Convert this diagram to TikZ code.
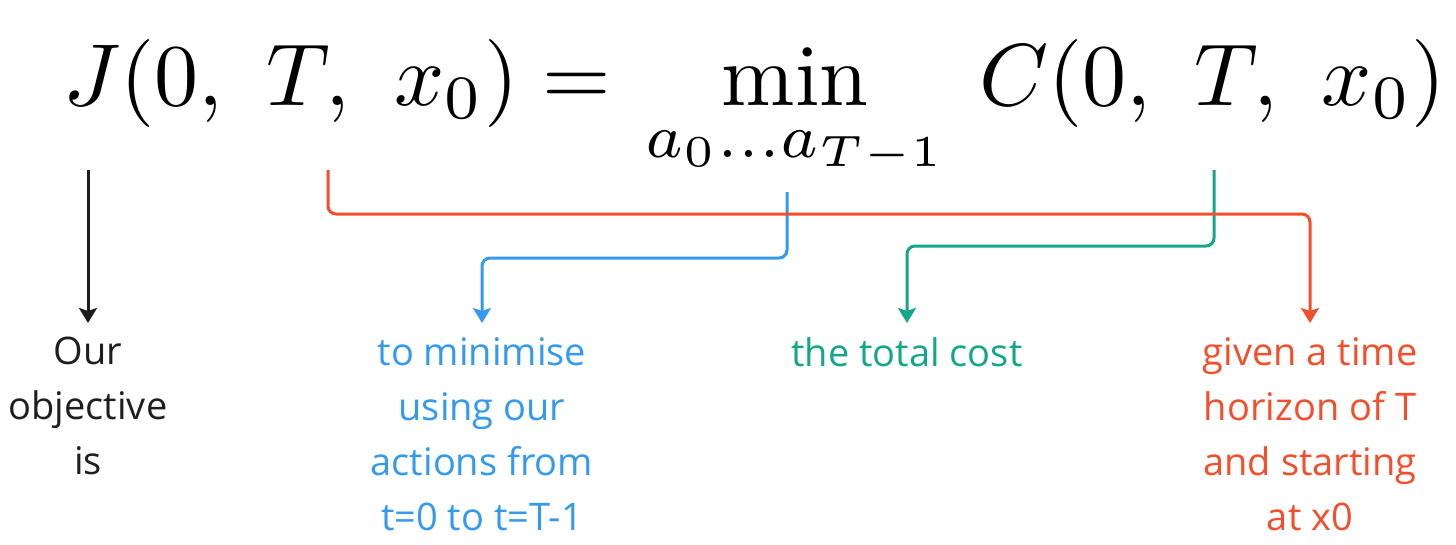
\documentclass[tikz,border=0pt]{standalone}
\usepackage{amsmath}
\usepackage{fontspec}
\newfontfamily\labelfont{Open Sans}
\usetikzlibrary{
  	positioning,
  	arrows.meta,
  	calc
  }
\definecolor{ink}{HTML}{1E1E1E}
\definecolor{cblue}{HTML}{339AF0}
\definecolor{cgreen}{HTML}{12A887}
\definecolor{cred}{HTML}{F44E2B}
\tikzstyle{lab}=[font=\labelfont\fontsize{38}{55}\selectfont, align=center, inner sep=0pt, anchor=north]
\tikzstyle{conn}=[line width=3pt, rounded corners=8pt, -{Stealth[length=15pt,width=18pt,inset=3pt]}, shorten >=14pt]

\begin{document}
\begin{tikzpicture}[x=1pt,y=-1pt]
\useasboundingbox (0,0) rectangle (1456,544);
\node[anchor=base west, inner sep=0pt, text=black] (eq) at (63,105)
  {\scalebox{8.8}{$\displaystyle J(0,\ T,\ x_0) =\mkern2mu \min_{a_0\ldots a_{T-1}}\hspace{2.2pt} C(0,\ T,\ x_0)$}};
% feet of the arrows under the formula
\coordinate (Jfoot) at (88,170);
\coordinate (Tfoot) at (328,170);
\coordinate (minfoot) at (787,192);
\coordinate (Cfoot) at (1214,170);
% labels
\node[lab, text=ink] (obj) at (88,337) {Our\\objective\\is};
\node[lab, text=cblue] (minim) at (482,337) {to minimise\\using our\\actions from\\t=0 to t=T-1};
\node[lab, text=cgreen] (cost) at (907,337) {the total cost};
\node[lab, text=cred] (horiz) at (1310,337) {given a time\\horizon of T\\and starting\\at x0};
% connectors
\draw[conn, ink] (Jfoot) -- (obj.north);
\draw[conn, cblue] (minfoot) -- ++(0,66) -| (minim.north);
\draw[conn, cgreen] (Cfoot) -- ++(0,76) -| (cost.north);
\draw[conn, cred] (Tfoot) -- ++(0,44) -| (horiz.north);
\end{tikzpicture}
\end{document}
